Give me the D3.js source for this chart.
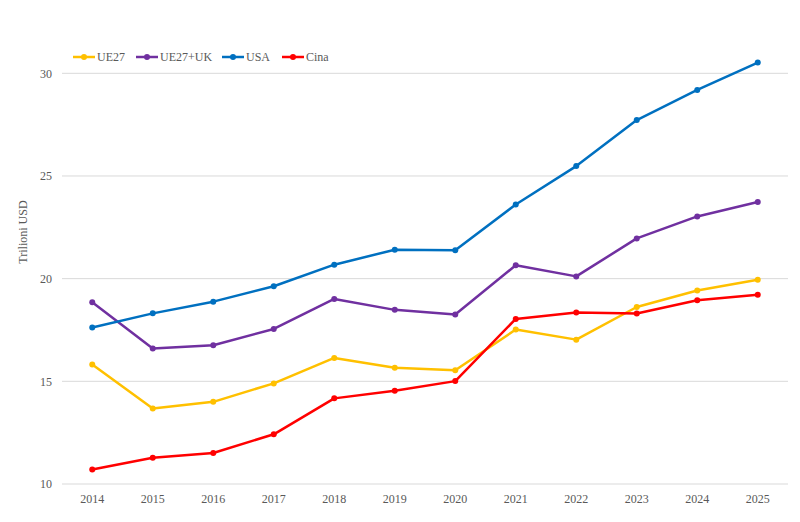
<!DOCTYPE html>
<html>
<head>
<meta charset="utf-8">
<script src="https://cdn.jsdelivr.net/npm/d3@7"></script>
<style>
  body { margin: 0; background: #fff; }
  svg text { font-family: 'Liberation Serif', 'Times New Roman', serif !important; }
</style>
</head>
<body>
<div id="chart"></div>
<script>
// Data
const years = ["2014", "2015", "2016", "2017", "2018", "2019", "2020", "2021", "2022", "2023", "2024", "2025"];
const ue27 = [15.82, 13.68, 14.0, 14.9, 16.14, 15.66, 15.54, 17.52, 17.03, 18.62, 19.42, 19.95];
const ue27uk = [18.85, 16.6, 16.76, 17.55, 19.01, 18.48, 18.25, 20.65, 20.11, 21.96, 23.03, 23.73];
const usa = [17.62, 18.31, 18.88, 19.63, 20.68, 21.41, 21.38, 23.61, 25.48, 27.72, 29.19, 30.52];
const cina = [10.71, 11.28, 11.51, 12.42, 14.17, 14.54, 15.01, 18.04, 18.35, 18.3, 18.95, 19.22];
const yTicks = [10, 15, 20, 25, 30];

const seriesNames = ["UE27", "UE27+UK", "USA", "Cina"];
const seriesValues = [ue27, ue27uk, usa, cina];
const seriesColors = ["#FFC000", "#7030A0", "#0070C0", "#FF0000"];

const W = 800, H = 522;
const plot = { left: 62, right: 788, top: 73.3, bottom: 484 };
const serif = "'Liberation Serif', 'Times New Roman', serif";

const svg = d3.select("#chart").append("svg")
    .attr("width", W)
    .attr("height", H)
    .attr("font-family", serif);

const x = d3.scaleBand()
    .domain(years)
    .range([plot.left, plot.right]);

const y = d3.scaleLinear()
    .domain([10, 30])
    .range([plot.bottom, plot.top]);

// gridlines
svg.append("g")
    .selectAll("line")
    .data(yTicks)
    .enter()
    .append("line")
    .attr("x1", plot.left)
    .attr("x2", plot.right)
    .attr("y1", d => y(d))
    .attr("y2", d => y(d))
    .attr("stroke", "#d9d9d9")
    .attr("stroke-width", 1);

// y axis labels
const yAxis = svg.append("g")
    .attr("transform", `translate(${plot.left},0)`)
    .call(d3.axisLeft(y).tickValues(yTicks).tickSize(0).tickPadding(10))
    .attr("font-family", serif)
    .attr("font-size", 12);
yAxis.select(".domain").remove();
yAxis.selectAll("text").attr("fill", "#595959");

// x axis labels
const xAxis = svg.append("g")
    .attr("transform", `translate(0,${plot.bottom})`)
    .call(d3.axisBottom(x).tickSize(0).tickPadding(10))
    .attr("font-family", serif)
    .attr("font-size", 12);
xAxis.select(".domain").remove();
xAxis.selectAll("text").attr("fill", "#595959");

// y title
svg.append("text")
    .attr("transform", `translate(27,232) rotate(-90)`)
    .attr("text-anchor", "middle")
    .attr("fill", "#595959")
    .attr("font-size", 12)
    .text("Trilioni USD");

const line = d3.line()
    .x((d, i) => x(years[i]) + x.bandwidth() / 2)
    .y(d => y(d));

seriesValues.forEach((vals, k) => {
    svg.append("path")
        .datum(vals)
        .attr("d", line)
        .attr("fill", "none")
        .attr("stroke", seriesColors[k])
        .attr("stroke-width", 2.5)
        .attr("stroke-linejoin", "round");

    svg.selectAll(null)
        .data(vals)
        .enter()
        .append("circle")
        .attr("cx", (d, i) => x(years[i]) + x.bandwidth() / 2)
        .attr("cy", d => y(d))
        .attr("r", 3)
        .attr("fill", seriesColors[k]);
});

// legend
const legendX = [73, 136, 222, 282];
const legend = svg.append("g");
seriesNames.forEach((name, k) => {
    const g = legend.append("g").attr("transform", `translate(${legendX[k]},57)`);
    g.append("line")
        .attr("x1", 0).attr("x2", 22)
        .attr("y1", 0).attr("y2", 0)
        .attr("stroke", seriesColors[k])
        .attr("stroke-width", 2.5);
    g.append("circle")
        .attr("cx", 11).attr("cy", 0).attr("r", 3)
        .attr("fill", seriesColors[k]);
    g.append("text")
        .attr("x", 24)
        .attr("y", 4)
        .attr("fill", "#595959")
        .attr("font-size", 12)
        .text(name);
});
</script>
</body>
</html>
